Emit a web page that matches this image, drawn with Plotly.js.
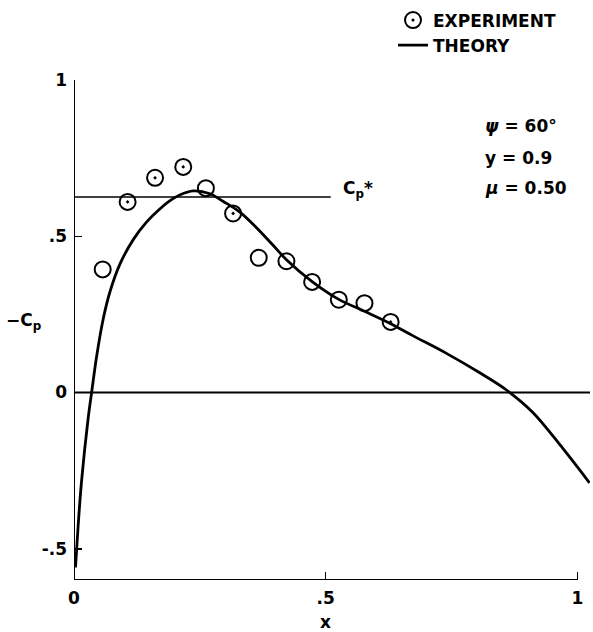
<!DOCTYPE html>
<html>
<head>
<meta charset="utf-8">
<script src="https://cdn.plot.ly/plotly-3.0.1.min.js"></script>
<style>html,body{margin:0;padding:0;background:#fff;}#chart{width:593px;height:632px;}</style>
</head>
<body>
<div id="chart"></div>
<script>
// Experiment points (with centre dot)
const expDotX = [0.1065, 0.161, 0.217, 0.316, 0.629];
const expDotY = [0.610, 0.687, 0.722, 0.573, 0.226];
// Experiment points (plain circles)
const expPlainX = [0.057, 0.262, 0.367, 0.422, 0.473, 0.526, 0.577];
const expPlainY = [0.394, 0.654, 0.431, 0.420, 0.354, 0.297, 0.286];
// Theory curve
const theoryX = [0.003, 0.0085, 0.015, 0.028, 0.035, 0.045, 0.058, 0.071, 0.091, 0.118, 0.144, 0.171, 0.19, 0.21, 0.237, 0.27, 0.296, 0.329, 0.362, 0.395, 0.422, 0.473, 0.526, 0.577, 0.627, 0.673, 0.739, 0.806, 0.859, 0.911, 0.971, 1.024];
const theoryY = [-0.56, -0.42, -0.284, -0.084, 0.0, 0.116, 0.235, 0.32, 0.41, 0.49, 0.545, 0.588, 0.613, 0.632, 0.645, 0.636, 0.612, 0.578, 0.528, 0.472, 0.425, 0.355, 0.298, 0.26, 0.222, 0.182, 0.126, 0.063, 0.008, -0.063, -0.179, -0.289];
// Critical pressure coefficient
const cpStar = 0.626;
const cpStarXEnd = 0.51;
// Ticks
const xTickVals = [0, 0.5, 1];
const xTickText = ['0', '.5', '1'];
const yTickVals = [-0.5, 0, 0.5, 1];
const yTickText = ['-.5', '0', '.5', '1'];
// Parameter labels
const paramLabels = ['<i>ψ</i> = 60°', 'y = 0.9', '<i>μ</i> = 0.50'];
const paramY = [0.852, 0.751, 0.656];

const FONT = 'DejaVu Sans, Liberation Sans, sans-serif';
const f = (s) => ({family: FONT, size: s, color: '#000', weight: 'bold'});

const traces = [
  {
    x: expDotX, y: expDotY, type: 'scatter', mode: 'markers', name: 'EXPERIMENT',
    marker: {symbol: 'circle-open-dot', size: 16, color: '#000', line: {width: 2, color: '#000'}}
  },
  {
    x: theoryX, y: theoryY, type: 'scatter', mode: 'lines', name: 'THEORY',
    line: {color: '#000', width: 2.8, shape: 'spline', smoothing: 1.0}
  },
  {
    x: expPlainX, y: expPlainY, type: 'scatter', mode: 'markers', name: 'EXPERIMENT', showlegend: false,
    marker: {symbol: 'circle-open', size: 16, color: '#000', line: {width: 2, color: '#000'}}
  }
];

const annotations = [
  {x: cpStarXEnd + 0.02, y: cpStar + 0.025, xref: 'x', yref: 'y', text: 'C<sub>p</sub>*', showarrow: false,
   xanchor: 'left', yanchor: 'middle', font: f(17)},
  {x: -0.136, y: 0.518, xref: 'paper', yref: 'paper', text: '−C<sub>p</sub>', showarrow: false,
   xanchor: 'left', yanchor: 'middle', font: f(17)},
  {x: 0.488, y: -0.083, xref: 'paper', yref: 'paper', text: 'x', showarrow: false,
   xanchor: 'center', yanchor: 'middle', font: f(17)}
];
paramLabels.forEach((t, i) => annotations.push({
  x: 0.813, y: paramY[i], xref: 'x', yref: 'y', text: t, showarrow: false,
  xanchor: 'left', yanchor: 'middle', font: f(17)
}));

const shapes = [
  // axes
  {type: 'line', xref: 'x', yref: 'y', x0: 0, x1: 0, y0: -0.6, y1: 1, line: {color: '#000', width: 2}},
  {type: 'line', xref: 'x', yref: 'y', x0: 0, x1: 1, y0: -0.6, y1: -0.6, line: {color: '#000', width: 2}},
  // zero line
  {type: 'line', xref: 'x', yref: 'y', x0: 0, x1: 1.025, y0: 0, y1: 0, line: {color: '#000', width: 2}},
  // Cp* line
  {type: 'line', xref: 'x', yref: 'y', x0: 0, x1: cpStarXEnd, y0: cpStar, y1: cpStar, line: {color: '#000', width: 1.5}}
];

const layout = {
  width: 593, height: 632,
  margin: {l: 74, r: 3, t: 73, b: 52},
  paper_bgcolor: '#fff', plot_bgcolor: '#fff',
  showlegend: true,
  legend: {x: (393 - 74) / 516, y: 1.155, xanchor: 'left', yanchor: 'top', bgcolor: 'rgba(0,0,0,0)',
           font: f(17), tracegroupgap: 0},
  xaxis: {range: [0, 1.025], showgrid: false, zeroline: false, showline: false,
          tickvals: xTickVals, ticktext: xTickText, ticks: 'inside', ticklen: 8, tickwidth: 1.5, tickcolor: '#000',
          ticklabelstandoff: 6, tickfont: f(17)},
  yaxis: {range: [-0.6, 1.0], showgrid: false, zeroline: false, showline: false,
          tickvals: yTickVals, ticktext: yTickText, ticks: 'inside', ticklen: 8, tickwidth: 1.5, tickcolor: '#000',
          ticklabelstandoff: 6, tickfont: f(17)},
  annotations: annotations,
  shapes: shapes
};

Plotly.newPlot('chart', traces, layout, {displayModeBar: false, staticPlot: true});
</script>
</body>
</html>
